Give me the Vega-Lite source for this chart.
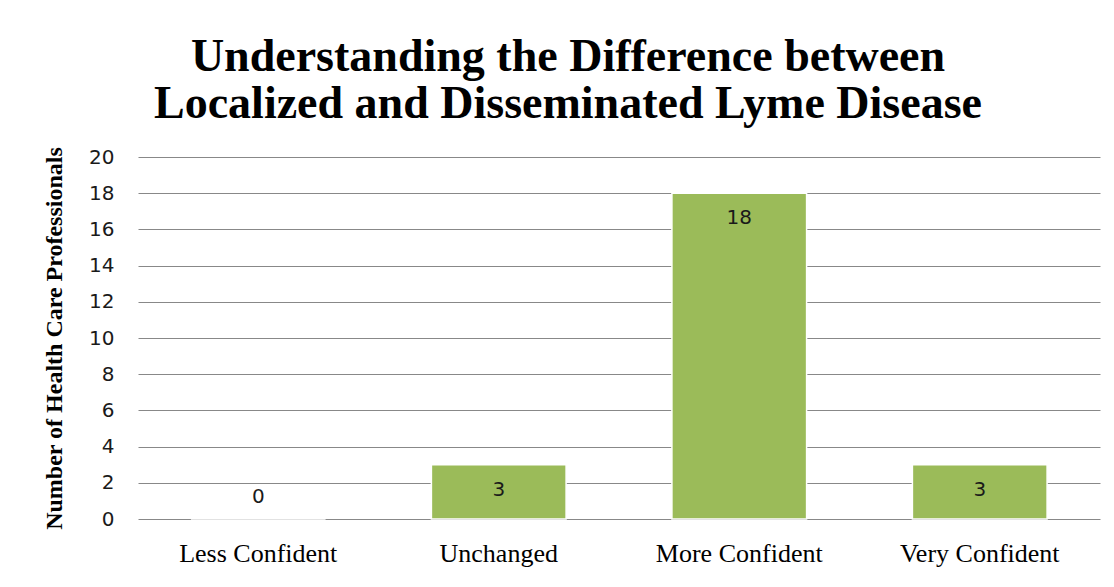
{
  "$schema": "https://vega.github.io/schema/vega-lite/v6.json",
  "width": 962,
  "height": 362,
  "autosize": {"type": "none"},
  "padding": {"left": 138, "top": 157, "right": 14, "bottom": 68},
  "background": "white",
  "title": {
    "text": ["Understanding the Difference between", "Localized and Disseminated Lyme Disease"],
    "font": "Liberation Serif",
    "fontSize": 46,
    "fontWeight": "bold",
    "color": "black",
    "anchor": "middle",
    "dx": -51,
    "lineHeight": 47,
    "offset": 18
  },
  "data": {
    "values": [
      {"category": "Less Confident", "count": 0},
      {"category": "Unchanged", "count": 3},
      {"category": "More Confident", "count": 18},
      {"category": "Very Confident", "count": 3}
    ]
  },
  "encoding": {
    "x": {
      "field": "category",
      "type": "nominal",
      "sort": null,
      "scale": {"paddingInner": 0.44, "paddingOuter": 0.22},
      "axis": {
        "title": null,
        "labelAngle": 0,
        "domain": false,
        "ticks": false,
        "labelFont": "Liberation Serif",
        "labelFontSize": 26,
        "labelColor": "black",
        "labelPadding": 21
      }
    },
    "y": {
      "field": "count",
      "type": "quantitative",
      "scale": {"domain": [0, 20]},
      "axis": {
        "title": "Number of Health Care Professionals",
        "values": [0, 2, 4, 6, 8, 10, 12, 14, 16, 18, 20],
        "domain": false,
        "ticks": false,
        "grid": true,
        "gridColor": "#888888",
        "gridWidth": 1,
        "labelFont": "DejaVu Sans",
        "labelFontSize": 20,
        "labelColor": "#1a1a1a",
        "labelPadding": 24,
        "titleFont": "Liberation Serif",
        "titleFontSize": 24,
        "titleFontWeight": "bold",
        "titleColor": "black",
        "titlePadding": 22
      }
    }
  },
  "layer": [
    {
      "mark": {"type": "bar", "color": "#9BBB59", "stroke": "white", "strokeWidth": 1.5}
    },
    {
      "transform": [{"filter": "datum.count > 0"}],
      "mark": {"type": "text", "baseline": "middle", "dy": 25, "font": "DejaVu Sans", "fontSize": 20, "color": "#1a1a1a"},
      "encoding": {"text": {"field": "count", "type": "quantitative"}}
    },
    {
      "transform": [{"filter": "datum.count == 0"}],
      "mark": {"type": "text", "baseline": "middle", "dy": -22, "font": "DejaVu Sans", "fontSize": 20, "color": "#1a1a1a"},
      "encoding": {"text": {"field": "count", "type": "quantitative"}}
    }
  ],
  "config": {"view": {"stroke": null}}
}
